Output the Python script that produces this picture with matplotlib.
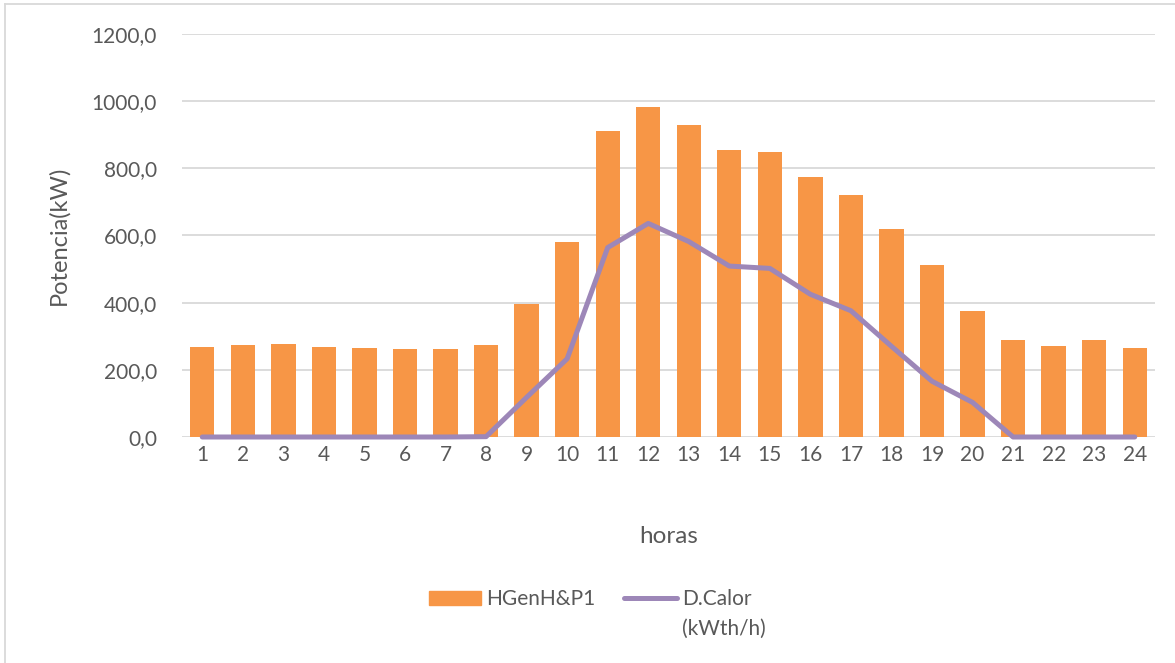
import matplotlib
matplotlib.use("Agg")
import matplotlib.pyplot as plt
from matplotlib.lines import Line2D
from matplotlib.patches import Patch
import numpy as np

# datos horarios
horas = list(range(1, 25))
hgen = [269, 275, 278, 269, 266, 263, 263, 273, 396, 581, 911, 984,
        929, 856, 849, 774, 722, 618, 513, 375, 288, 272, 290, 264]
d_calor = [0, 0, 0, 0, 0, 0, 0, 1, 118, 233, 564, 636,
           582, 509, 502, 425, 376, 270, 166, 103, 0, 0, 0, 0]

c_bar = '#F79646'
c_line = '#9D87B8'
c_txt = '#595959'
c_grid = '#D9D9D9'

plt.rcParams['font.family'] = ['Lato', 'DejaVu Sans']

fig = plt.figure(figsize=(11.75, 6.63), dpi=100)
ax = fig.add_axes([182/1175, 1-437/663, (1155-182)/1175, (437-34)/663])

x = np.arange(len(horas))
ax.bar(x, hgen, width=0.6, color=c_bar, zorder=2)
ax.plot(x, d_calor, color=c_line, lw=3.6, solid_capstyle='round',
        solid_joinstyle='round', zorder=3, clip_on=False)

ax.set_xlim(-0.5, len(horas) - 0.5)
ax.set_ylim(0, 1200)
ax.set_yticks(np.arange(0, 1201, 200))
ax.set_yticklabels([f"{v:.1f}".replace('.', ',') for v in np.arange(0, 1201, 200)])
ax.set_xticks(x)
ax.set_xticklabels([str(h) for h in horas])
ax.yaxis.grid(True, color=c_grid, lw=1.3, zorder=0)
ax.set_axisbelow(True)
for s in ax.spines.values():
    s.set_visible(False)
ax.tick_params(axis='both', length=0, labelsize=15, colors=c_txt)
ax.tick_params(axis='y', pad=18)
ax.tick_params(axis='x', pad=6)

ax.set_xlabel('horas', fontsize=17.5, color=c_txt, labelpad=44)
ax.set_ylabel('Potencia(kW)', fontsize=17, color=c_txt, labelpad=16)

handles = [Patch(color=c_bar), Line2D([], [], color=c_line, lw=3.6, solid_capstyle='round')]
leg = fig.legend(handles, ['HGenH&P1', 'D.Calor'], loc='center', ncol=2,
                 bbox_to_anchor=(590/1175, 1-599/663), frameon=False,
                 fontsize=15, labelcolor=c_txt, handlelength=2.5,
                 handletextpad=0.25, columnspacing=1.4, handleheight=0.67,
                 borderpad=0)

# segunda linea de la etiqueta
fig.canvas.draw()
bb = leg.get_texts()[1].get_window_extent()
fig.text(bb.x0 / fig.bbox.width, (bb.y0 - 30) / fig.bbox.height, '(kWth/h)',
         fontsize=15, color=c_txt, ha='left', va='bottom')

# borde del grafico
fig.add_artist(Line2D([5/1175, 5/1175], [-0.01, 1-4/663], color=c_grid, lw=1.3,
                      transform=fig.transFigure))
fig.add_artist(Line2D([5/1175, 1.01], [1-4/663, 1-4/663], color=c_grid, lw=1.3,
                      transform=fig.transFigure))

fig.savefig('out.png', dpi=100)
